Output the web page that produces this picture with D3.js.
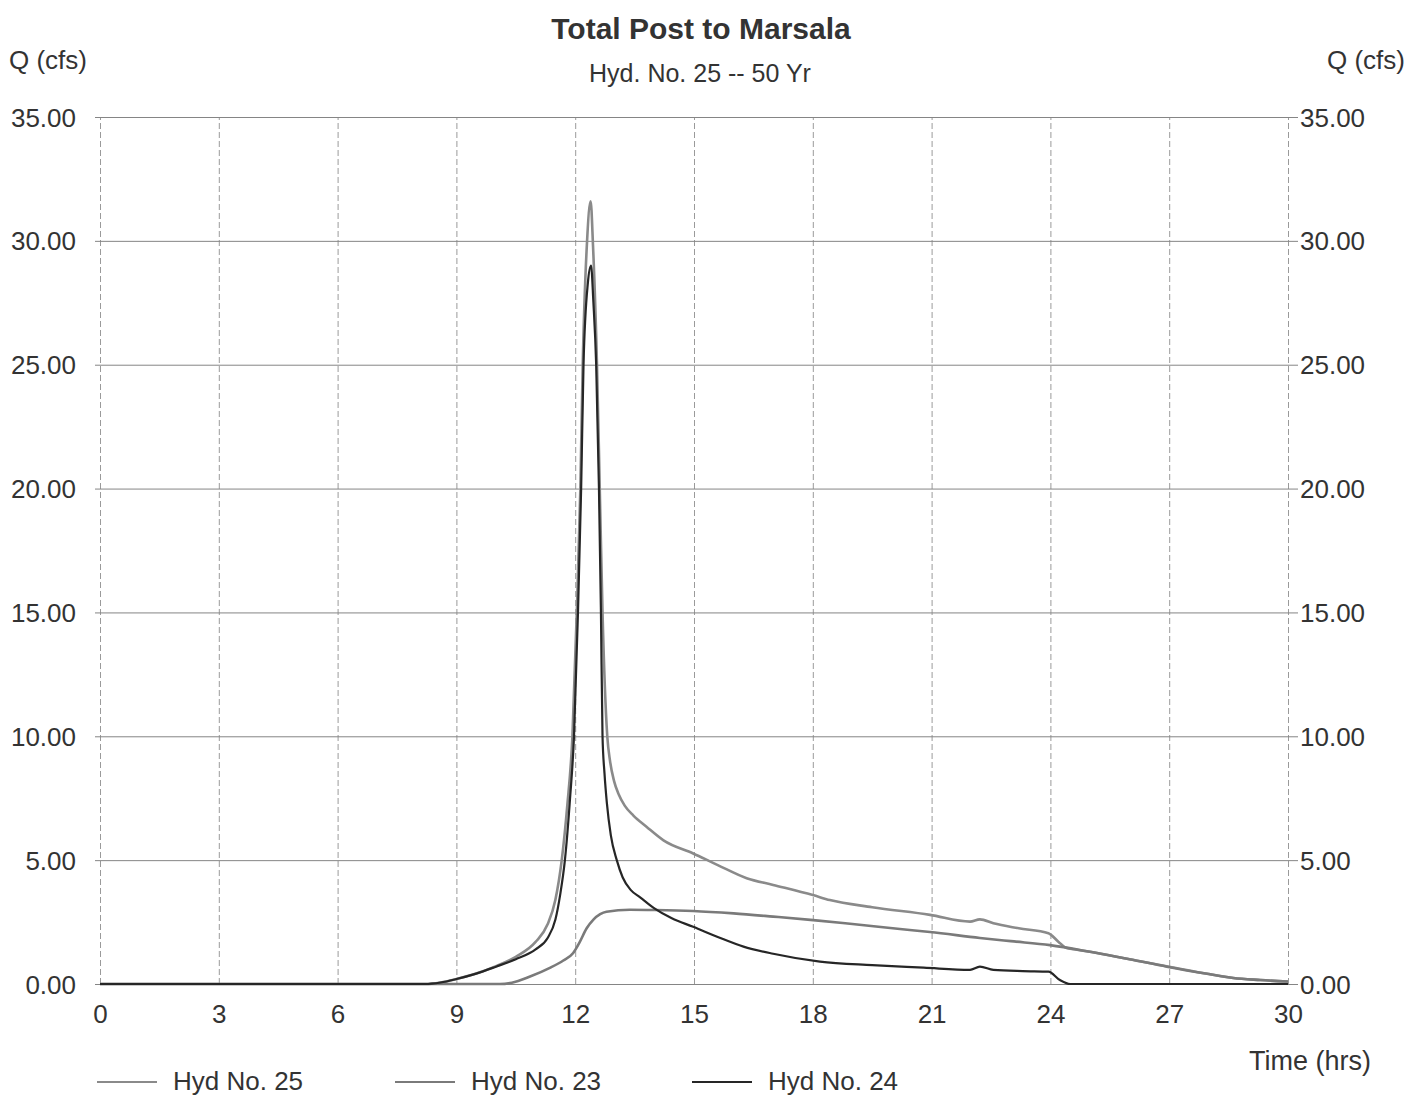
<!DOCTYPE html>
<html lang="en">
<head>
    <meta charset="UTF-8">
    <title>Total Post to Marsala</title>
    <script src="https://d3js.org/d3.v7.min.js"></script>
    <style>
        body { margin: 0; background: #fff; }
        svg text { font-family: "Liberation Sans", Arial, sans-serif; fill: #333; }
        .grid-h line { stroke: #858585; stroke-width: 1; }
        .grid-v line { stroke: #9a9a9a; stroke-width: 1; stroke-dasharray: 6,3; }
        .tick-label { font-size: 26px; }
    </style>
</head>
<body>
<div id="chart"></div>
<script>
    // x ticks (hours) and y ticks (cfs)
    const timeTicks = [0, 3, 6, 9, 12, 15, 18, 21, 24, 27, 30];
    const flowTicks = [0, 5, 10, 15, 20, 25, 30, 35];

    // series: [time (hrs), Q (cfs)]
    const hyd25 = [
        [0, 0], [8.2, 0], [8.6, 0.06], [9.0, 0.2], [9.5, 0.42], [10.0, 0.72], [10.5, 1.1],
        [11.0, 1.7], [11.3, 2.4], [11.5, 3.4], [11.66, 5.0], [11.8, 7.2], [11.93, 10.0],
        [12.04, 15.0], [12.13, 20.0], [12.19, 25.0], [12.3, 30.0], [12.39, 31.6],
        [12.45, 29.8], [12.55, 25.0], [12.62, 20.0], [12.69, 15.0], [12.81, 10.0],
        [12.88, 9.0], [12.98, 8.2], [13.1, 7.65], [13.25, 7.2], [13.47, 6.8], [13.8, 6.35], [14.23, 5.8],
        [14.98, 5.27], [15.6, 4.8], [16.33, 4.27], [17.0, 4.0], [18.0, 3.59], [18.43, 3.39],
        [19.5, 3.1], [20.96, 2.79], [21.97, 2.52], [22.22, 2.61], [22.56, 2.45],
        [23.2, 2.25], [23.95, 2.05], [24.2, 1.71], [24.41, 1.45], [24.6, 1.4],
        [25.0, 1.3], [26.0, 1.0], [27.0, 0.7], [28.0, 0.4], [28.62, 0.24], [29.3, 0.16], [30.0, 0.1]
    ];

    const hyd23 = [
        [0, 0], [10.1, 0], [10.4, 0.05], [10.86, 0.3], [11.36, 0.65], [11.7, 0.95],
        [11.95, 1.25], [12.1, 1.65], [12.29, 2.25], [12.46, 2.6], [12.63, 2.82], [12.79, 2.92],
        [13.38, 3.0], [14.0, 2.99], [14.98, 2.95], [16.0, 2.85], [17.0, 2.72], [18.01, 2.58],
        [19.0, 2.42], [20.2, 2.22], [20.96, 2.1], [22.22, 1.86], [23.0, 1.73], [23.99, 1.57],
        [25.0, 1.3], [26.0, 1.0], [26.94, 0.7], [28.0, 0.4], [28.62, 0.24], [29.3, 0.16], [30.0, 0.1]
    ];

    const hyd24 = [
        [0, 0], [8.2, 0], [8.6, 0.06], [9.0, 0.2], [9.5, 0.42], [10.0, 0.7], [10.5, 1.0],
        [11.0, 1.4], [11.3, 1.85], [11.5, 2.6], [11.62, 3.6], [11.74, 5.0], [11.87, 7.5], [11.97, 10.0],
        [12.07, 15.0], [12.15, 20.0], [12.21, 25.0], [12.32, 28.3], [12.4, 29.0],
        [12.46, 27.5], [12.53, 25.0], [12.6, 20.0], [12.65, 15.0], [12.69, 10.0],
        [12.74, 8.5], [12.8, 7.3], [12.9, 6.0], [13.05, 5.0], [13.2, 4.3], [13.4, 3.8], [13.64, 3.5],
        [14.0, 3.05], [14.44, 2.65], [14.98, 2.31], [15.6, 1.9], [16.25, 1.51], [17.0, 1.22],
        [18.18, 0.9], [19.5, 0.76], [20.8, 0.66], [21.97, 0.57], [22.22, 0.7], [22.56, 0.57],
        [23.3, 0.52], [23.95, 0.5], [24.24, 0.16], [24.5, 0.0], [30.0, 0.0]
    ];

    const seriesNames = ["Hyd No. 25", "Hyd No. 23", "Hyd No. 24"];
    const seriesColors = ["#8a8a8a", "#7a7a7a", "#262626"];

    const width = 1410, height = 1097;
    const plot = { left: 100, right: 1288, top: 117, bottom: 984 };

    const svg = d3.select("#chart").append("svg")
        .attr("width", width)
        .attr("height", height);

    const x = d3.scaleLinear().domain([0, 30]).range([plot.left, plot.right]);
    const y = d3.scaleLinear().domain([0, 35]).range([plot.bottom, plot.top]);

    // vertical grid (dashed)
    svg.append("g")
        .attr("class", "grid-v")
        .attr("transform", `translate(0,${plot.bottom})`)
        .call(d3.axisBottom(x).tickValues(timeTicks).tickSize(-(plot.bottom - plot.top)).tickFormat(""))
        .call(g => g.select(".domain").remove());

    // horizontal grid
    svg.append("g")
        .attr("class", "grid-h")
        .attr("transform", `translate(${plot.right + 10},0)`)
        .call(d3.axisLeft(y).tickValues(flowTicks).tickSize(plot.right + 10 - plot.left + 5).tickFormat(""))
        .call(g => g.select(".domain").remove());

    // left axis labels
    const fmt = d3.format(".2f");
    svg.append("g")
        .attr("transform", `translate(${plot.left - 24},0)`)
        .call(d3.axisLeft(y).tickValues(flowTicks).tickSize(0).tickPadding(0).tickFormat(fmt))
        .call(g => g.select(".domain").remove())
        .selectAll("text").attr("class", "tick-label").attr("dy", "0.35em");

    // right axis labels
    svg.append("g")
        .attr("transform", `translate(${plot.right + 12},0)`)
        .call(d3.axisRight(y).tickValues(flowTicks).tickSize(0).tickPadding(0).tickFormat(fmt))
        .call(g => g.select(".domain").remove())
        .selectAll("text").attr("class", "tick-label").attr("dy", "0.35em");

    // bottom axis labels
    svg.append("g")
        .attr("transform", `translate(0,${plot.bottom + 21})`)
        .call(d3.axisBottom(x).tickValues(timeTicks).tickSize(0).tickPadding(0))
        .call(g => g.select(".domain").remove())
        .selectAll("text").attr("class", "tick-label").attr("dy", "0.71em");

    // series lines
    const line = d3.line()
        .x(d => x(d[0]))
        .y(d => y(d[1]))
        .curve(d3.curveMonotoneX);

    const allSeries = [hyd25, hyd23, hyd24];
    allSeries.forEach((s, i) => {
        svg.append("path")
            .datum(s)
            .attr("fill", "none")
            .attr("stroke", seriesColors[i])
            .attr("stroke-width", i === 2 ? 2.2 : 2.6)
            .attr("stroke-linejoin", "round")
            .attr("d", line);
    });

    // titles
    svg.append("text")
        .attr("x", 701).attr("y", 39)
        .attr("text-anchor", "middle")
        .style("font-size", "30px").style("font-weight", "bold")
        .text("Total Post to Marsala");

    svg.append("text")
        .attr("x", 700).attr("y", 82)
        .attr("text-anchor", "middle")
        .style("font-size", "25px")
        .text("Hyd. No. 25 -- 50 Yr");

    svg.append("text")
        .attr("x", 9).attr("y", 69)
        .style("font-size", "26px")
        .text("Q (cfs)");

    svg.append("text")
        .attr("x", 1405).attr("y", 69)
        .attr("text-anchor", "end")
        .style("font-size", "26px")
        .text("Q (cfs)");

    svg.append("text")
        .attr("x", 1371).attr("y", 1070)
        .attr("text-anchor", "end")
        .style("font-size", "27px")
        .text("Time (hrs)");

    // legend
    const legendX = [97, 395, 692];
    const legend = svg.append("g");
    seriesNames.forEach((name, i) => {
        legend.append("line")
            .attr("x1", legendX[i]).attr("x2", legendX[i] + 60)
            .attr("y1", 1082).attr("y2", 1082)
            .attr("stroke", seriesColors[i])
            .attr("stroke-width", i === 2 ? 2.2 : 2);
        legend.append("text")
            .attr("x", legendX[i] + 76).attr("y", 1090)
            .style("font-size", "26px")
            .text(name);
    });
</script>
</body>
</html>
